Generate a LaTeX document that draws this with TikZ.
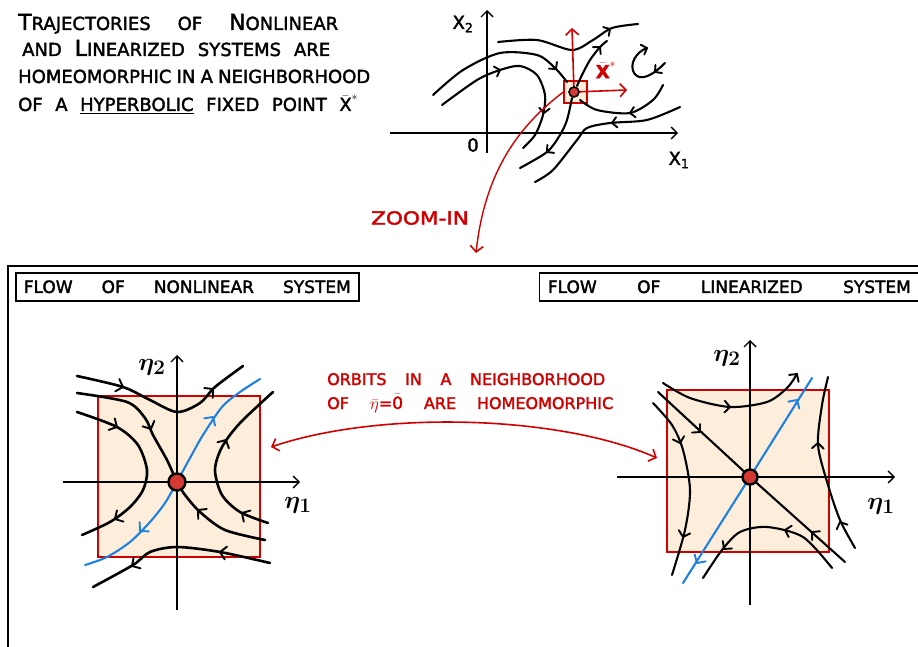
\documentclass[tikz,border=0pt]{standalone}
\usepackage{fontspec}
\usepackage{amsmath,amssymb}
\usetikzlibrary{arrows.meta,positioning}
\newfontfamily\handfont[FakeBold=2]{DejaVu Sans}
\definecolor{inkred}{HTML}{D10000}
\definecolor{inkblue}{HTML}{1E80E0}
\definecolor{nbhdfill}{HTML}{FDEEDB}
\definecolor{fixred}{HTML}{D43A33}
\newcommand{\bigini}[1]{{\fontsize{22}{22}\selectfont #1}}
\newcommand{\spreadline}[2]{\makebox[#1][s]{#2}}
\newcommand{\xbarstar}{$\bar{\text{X}}^{*}$}

\begin{document}
\begin{tikzpicture}[x=1pt, y=-1pt,
  hand/.style={font=\handfont\fontsize{18}{18}\selectfont, inner sep=0pt},
  redhand/.style={hand, text=inkred},
  titlebox/.style={draw, line width=1.6pt, minimum height=28pt, inner sep=0pt,
                   font=\handfont\fontsize{17}{17}\selectfont},
  nbhd/.style={draw=inkred, fill=nbhdfill, line width=2pt, inner sep=0pt},
  fixdot/.style={circle, draw=black, fill=fixred, line width=2.4pt, inner sep=0pt},
  axis/.style={line width=1.4pt, -{Straight Barb[length=6pt,width=12pt,line width=1.4pt]}},
  traj/.style={line width=2.6pt, line cap=round, line join=round},
  thintraj/.style={line width=2.1pt, line cap=round, line join=round},
  blueflow/.style={inkblue, line width=2.1pt, line cap=round},
  chev/.pic={\draw[line width=1.9pt, line cap=round, line join=round] (-6,-6.5) -- (0,0) -- (-6,6.5);},
  etalab/.style={font=\fontsize{28}{28}\selectfont\boldmath, inner sep=0pt},
  redarr/.style={inkred, line width=1.6pt, -{Straight Barb[length=6pt,width=13pt,line width=1.6pt]}},
  redboth/.style={inkred, line width=1.6pt,
    {Straight Barb[length=6pt,width=13pt,line width=1.6pt]}-{Straight Barb[length=6pt,width=13pt,line width=1.6pt]}},
  frame/.style={line width=2pt}
]
  \useasboundingbox (0,0) rectangle (918,647);

  %% Statement
  \node[hand, anchor=base west] (claim1) at (18,30)
    {\spreadline{320pt}{\bigini{T}RAJECTORIES OF \bigini{N}ONLINEAR}};
  \node[hand, anchor=base west] (claim2) at (22,56)
    {\spreadline{308pt}{AND \bigini{L}INEARIZED SYSTEMS ARE}};
  \node[hand, anchor=base west] (claim3) at (18,83)
    {\spreadline{352pt}{HOMEOMORPHIC IN A NEIGHBORHOOD}};
  \node[hand, anchor=base west] (claim4) at (18,111)
    {\spreadline{340pt}{OF A \underline{HYPERBOLIC} FIXED POINT \xbarstar}};

  %% Original phase plane
  \node[nbhd, line width=1.3pt, minimum width=23pt, minimum height=22pt] (tbox) at (575.5,92) {};
  \draw[axis] (390,133) -- (678,133);
  \draw[axis] (487,153) -- (487,10);
  \node[hand] (xtwo) at (463,24) {X\textsubscript{2}};
  \node[hand] (orig) at (473,145) {0};
  \node[hand] (xone) at (679,160) {X\textsubscript{1}};

  \draw[thintraj] plot[smooth] coordinates {(498,42) (537,40) (572,50) (593,40) (612,28) (638,24)};
  \draw[thintraj] plot[smooth] coordinates {(433,95) (463,70) (500,53) (537,55) (555,68) (567,82)};
  \draw[thintraj] plot[smooth] coordinates {(442,105) (477,80) (500,70) (520,66) (537,75) (545,95) (543,115) (535,135) (523,148)};
  \draw[thintraj] plot[smooth] coordinates {(572,98) (567,120) (560,135) (547,152) (520,168)};
  \draw[thintraj] plot[smooth] coordinates {(577,86) (582,75) (590,60) (600,47) (607,41)};
  \draw[thintraj] plot[smooth] coordinates {(663,85) (653,100) (630,113) (597,110) (580,100)};
  \draw[thintraj] plot[smooth] coordinates {(680,107) (647,120) (610,123) (587,128) (577,140) (553,170) (535,182)};
  \draw[thintraj] (665,63) .. controls (652,76) and (640,82) .. (634,73)
    .. controls (629,64) and (636,52) .. (647,48);
  \foreach \px/\py/\ang in {610/29/32, 556/69/-50, 500/70/18, 544/113/-95, 547/152/-140,
                            600/47/48, 630/113/-170, 612/123/-172, 655/72/-141, 647/48/20}
    \pic[rotate=\ang, scale=0.8] at (\px,\py) {chev};

  \coordinate (xup) at (572,28);
  \coordinate (xright) at (627,90);
  \draw[redarr] (574,92) -- (xup);
  \draw[redarr] (574,92) -- (xright);
  \node[fixdot, line width=1.6pt, minimum size=10pt] (tfix) at (574,92) {};
  \node[redhand, font=\handfont\bfseries\fontsize{18}{18}\selectfont] (xlab) at (606,70) {\xbarstar};

  %% Zoom-in
  \coordinate (zoomend) at (476,253);
  \draw[redarr, line width=1.4pt] (tbox.west) .. controls (520,125) and (485,170) .. (zoomend);
  \node[redhand] (zoomlab) at (420,218) {\scalebox{1.2}[1]{ZOOM-IN}};

  %% Frame and titles
  \draw[frame] (8,647) -- (8,266) -- (918,266);
  \node[titlebox, anchor=north west, minimum width=343pt] (nltitle) at (15,272)
    {\spreadline{327pt}{FLOW OF NONLINEAR SYSTEM}};
  \node[titlebox, minimum width=380pt, right=179pt of nltitle.north east, anchor=north west] (lintitle)
    {\spreadline{363pt}{FLOW OF LINEARIZED SYSTEM}};

  %% Nonlinear flow
  \node[nbhd, minimum width=162pt, minimum height=161pt] (lsq) at (179,476.5) {};
  \draw[axis] (63,482) -- (300,482);
  \draw[axis] (177,610) -- (177,355);
  \node[etalab] (etatwoL) at (152,367) {$\eta_{2}$};
  \node[etalab] (etaoneL) at (298,505) {$\eta_{1}$};

  \draw[traj] plot[smooth] coordinates {(77,376) (123,387) (150,400) (177,412) (200,403) (215,387) (243,366)};
  \draw[traj] plot[smooth] coordinates {(77,393) (127,402) (145,418) (153,435) (167,460) (175,478)};
  \draw[traj] plot[smooth] coordinates {(77,412) (117,427) (138,445) (147,470) (143,490) (130,507) (110,522) (82,535)};
  \draw[traj] plot[smooth] coordinates {(265,540) (225,530) (200,512) (185,495) (180,487)};
  \draw[traj] plot[smooth] coordinates {(268,523) (240,512) (222,495) (215,470) (222,447) (240,423) (273,392)};
  \draw[traj] plot[smooth] coordinates {(270,563) (220,552) (177,547) (150,552) (133,565) (93,587)};
  \draw[blueflow] plot[smooth] coordinates {(177,482) (190,458) (203,435) (222,407) (240,392) (260,379)};
  \draw[blueflow] plot[smooth] coordinates {(177,482) (165,503) (150,522) (130,542) (107,557) (85,565)};
  \foreach \px/\py/\ang in {123/387/-18, 213/389/41, 151/429/-65, 117/427/-28, 115/519/-150,
                            198/510/139, 242/513/149, 226/440/62, 220/552/170, 132/566/-148}
    \pic[rotate=\ang] at (\px,\py) {chev};
  \foreach \px/\py/\ang in {213/417/56, 140/531/-135}
    \pic[inkblue, rotate=\ang] at (\px,\py) {chev};
  \node[fixdot, minimum width=17pt, minimum height=15pt] (lfix) at (177,482) {};

  %% Linearized flow
  \node[nbhd, minimum width=162pt, minimum height=162pt] (rsq) at (748,471) {};
  \draw[axis] (617,477) -- (895,477);
  \draw[axis] (750,605) -- (750,340);
  \node[etalab] (etatwoR) at (727,358) {$\eta_{2}$};
  \node[etalab] (etaoneR) at (881,506) {$\eta_{1}$};

  \coordinate (rcen) at (750,477);
  \draw[thintraj] plot[smooth] coordinates {(663,383) (690,398) (730,407) (767,402) (787,388) (797,374)};
  \draw[thintraj] (658,392) -- (rcen);
  \draw[thintraj] (845,562) -- (rcen);
  \draw[thintraj] plot[smooth] coordinates {(653,403) (672,425) (683,450) (690,490) (685,530) (672,575)};
  \draw[thintraj] plot[smooth] coordinates {(855,548) (840,520) (828,485) (818,445) (822,405) (828,377)};
  \draw[thintraj] plot[smooth] coordinates {(832,568) (803,537) (767,527) (740,532) (722,550) (703,578)};
  \draw[blueflow] (rcen) -- (812,378);
  \draw[blueflow] (rcen) -- (683,583);
  \foreach \px/\py/\ang in {730/407/-3, 797/374/54, 700/432/-43, 812/532/138, 680/443/-74,
                            683/537/-106, 840/522/113, 818/443/88, 785/530/165, 724/549/-129}
    \pic[rotate=\ang, scale=0.9] at (\px,\py) {chev};
  \foreach \px/\py/\ang in {797/400/58, 697/563/-122}
    \pic[inkblue, rotate=\ang] at (\px,\py) {chev};
  \node[fixdot, minimum size=15pt] (rfix) at (rcen) {};

  %% Homeomorphism
  \coordinate (orbL) at (271,447);
  \coordinate (orbR) at (657,458);
  \draw[redboth] (orbL) .. controls (380,410) and (560,415) .. (orbR);
  \node[redhand, font=\handfont\fontsize{16}{16}\selectfont, anchor=base west] (orbits1) at (327,385)
    {\spreadline{278pt}{ORBITS IN A NEIGHBORHOOD}};
  \node[redhand, font=\handfont\fontsize{16}{16}\selectfont, anchor=base west] (orbits2) at (327,409)
    {\spreadline{286pt}{OF {\fontsize{19}{19}\selectfont$\bar{\eta}$}={\fontsize{17}{17}\selectfont$\bar{\text{0}}$} ARE HOMEOMORPHIC}};
\end{tikzpicture}
\end{document}
